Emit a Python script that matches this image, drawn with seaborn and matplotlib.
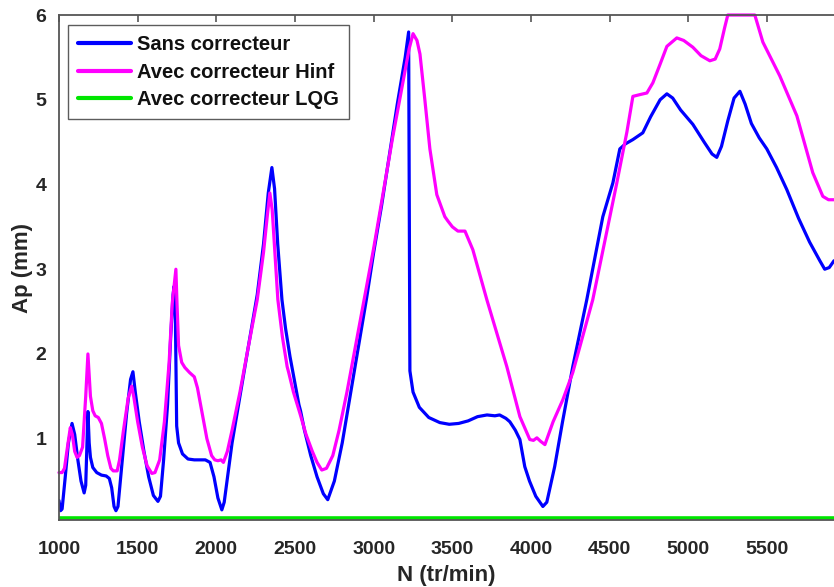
import matplotlib
matplotlib.use("Agg")
import matplotlib.pyplot as plt
import seaborn as sns
import numpy as np

# vitesse de rotation (tr/min) et amplitude Ap (mm)
sans_x = [1000, 1010, 1020, 1040, 1060, 1083, 1100, 1120, 1140, 1160, 1170, 1184, 1192, 1200,
          1215, 1240, 1270, 1300, 1320, 1335, 1350, 1362, 1375, 1400, 1430, 1455, 1470, 1485,
          1510, 1540, 1570, 1600, 1629, 1645, 1665, 1690, 1710, 1725, 1732, 1740, 1748, 1760,
          1785, 1820, 1860, 1900, 1930, 1960, 1985, 2010, 2035, 2050, 2075, 2100, 2150, 2200,
          2260, 2300, 2330, 2353, 2370, 2390, 2417, 2440, 2468, 2500, 2525, 2535, 2560, 2600,
          2640, 2680, 2708, 2750, 2800, 2850, 2900, 2955, 3000, 3050, 3100, 3150, 3200, 3222,
          3230, 3250, 3290, 3350, 3420, 3480, 3540, 3600, 3660, 3720, 3770, 3800, 3840, 3865,
          3900, 3929, 3960, 3990, 4030, 4075, 4100, 4150, 4200, 4265, 4354, 4456, 4520, 4564,
          4600, 4647, 4710, 4760, 4820, 4863, 4900, 4950, 5028, 5100, 5150, 5180, 5210, 5250,
          5290, 5327, 5360, 5400, 5450, 5498, 5560, 5625, 5700, 5770, 5835, 5866, 5895, 5925]
sans_y = [0.27, 0.15, 0.17, 0.55, 0.95, 1.18, 1.05, 0.75, 0.5, 0.36, 0.45, 1.32, 0.95, 0.78,
          0.66, 0.6, 0.57, 0.56, 0.53, 0.42, 0.2, 0.15, 0.2, 0.7, 1.3, 1.7, 1.79, 1.55,
          1.2, 0.85, 0.55, 0.33, 0.26, 0.32, 0.75, 1.4, 2.2, 2.7, 2.8, 2.4, 1.15, 0.95,
          0.82, 0.76, 0.75, 0.75, 0.75, 0.72, 0.55, 0.3, 0.16, 0.25, 0.6, 0.95, 1.5, 2.05,
          2.7, 3.3, 3.9, 4.2, 3.95, 3.3, 2.64, 2.3, 1.97, 1.65, 1.4, 1.33, 1.1, 0.8,
          0.55, 0.35, 0.28, 0.5, 0.95, 1.5, 2.05, 2.66, 3.2, 3.75, 4.35, 4.95, 5.5, 5.8,
          1.8, 1.55, 1.37, 1.25, 1.19, 1.17, 1.18, 1.21, 1.26, 1.28, 1.27, 1.28, 1.24, 1.2,
          1.1, 0.99, 0.67, 0.5, 0.32, 0.2, 0.25, 0.67, 1.2, 1.85, 2.64, 3.62, 4.02, 4.42,
          4.48, 4.53, 4.61, 4.8, 5.0, 5.07, 5.02, 4.88, 4.71, 4.5, 4.36, 4.32, 4.45, 4.75,
          5.02, 5.1, 4.95, 4.72, 4.55, 4.42, 4.2, 3.94, 3.6, 3.32, 3.1, 3.0, 3.02, 3.1]

hinf_x = [1000, 1020, 1035, 1050, 1072, 1085, 1100, 1115, 1130, 1150, 1170, 1184, 1192, 1200,
          1215, 1230, 1250, 1270, 1290, 1310, 1330, 1345, 1370, 1385, 1410, 1440, 1462, 1475,
          1500, 1530, 1560, 1590, 1610, 1640, 1670, 1700, 1720, 1743, 1750, 1760, 1780, 1800,
          1830, 1860, 1880, 1910, 1940, 1970, 1990, 2010, 2030, 2045, 2070, 2100, 2150, 2200,
          2260, 2300, 2325, 2340, 2355, 2375, 2391, 2420, 2450, 2460, 2490, 2531, 2570, 2610,
          2640, 2670, 2700, 2740, 2780, 2830, 2880, 2940, 3000, 3060, 3120, 3180, 3225, 3250,
          3275, 3294, 3325, 3357, 3401, 3452, 3471, 3500, 3535, 3580, 3630, 3719, 3846, 3929,
          3992, 4015, 4037, 4060, 4088, 4140, 4202, 4265, 4392, 4545, 4609, 4647, 4690, 4736,
          4774, 4820, 4863, 4926, 4970, 5028, 5080, 5136, 5170, 5199, 5230, 5250, 5300, 5350,
          5400, 5422, 5473, 5581, 5689, 5790, 5854, 5890, 5925]
hinf_y = [0.6, 0.6, 0.65, 0.85, 1.13, 1.05, 0.85, 0.78, 0.8, 0.9, 1.5, 2.0, 1.75, 1.5,
          1.33, 1.27, 1.25, 1.18, 1.0, 0.8, 0.65, 0.62, 0.62, 0.75, 1.1, 1.48, 1.62, 1.5,
          1.2, 0.9, 0.68, 0.59, 0.6, 0.75, 1.2, 1.9, 2.6, 3.0, 2.6, 2.1, 1.9, 1.84,
          1.78, 1.73, 1.6, 1.3, 1.0, 0.8, 0.75, 0.74, 0.75, 0.72, 0.85, 1.1, 1.55, 2.05,
          2.64, 3.2, 3.65, 3.9, 3.7, 3.1, 2.64, 2.2, 1.85, 1.78, 1.55, 1.3, 1.05, 0.85,
          0.72, 0.63, 0.65, 0.8, 1.1, 1.55, 2.05, 2.65, 3.25, 3.9, 4.55, 5.15, 5.6, 5.78,
          5.7, 5.54, 5.0, 4.42, 3.88, 3.62, 3.57, 3.5, 3.45, 3.45, 3.23, 2.64, 1.85, 1.26,
          0.99, 0.98, 1.01, 0.97, 0.93, 1.2, 1.46, 1.78, 2.64, 4.02, 4.62, 5.04, 5.06, 5.08,
          5.2, 5.42, 5.63, 5.73, 5.7, 5.62, 5.52, 5.46, 5.48, 5.6, 5.85, 6.0, 6.0, 6.0,
          6.0, 6.0, 5.68, 5.28, 4.81, 4.14, 3.86, 3.82, 3.82]

lqg_x = [1000, 2000, 3000, 4000, 5000, 5925]
lqg_y = [0.06, 0.06, 0.06, 0.06, 0.06, 0.06]

sns.set_style("white")
plt.rcParams['font.family'] = ['Liberation Sans', 'DejaVu Sans']
plt.rcParams['font.weight'] = 'bold'

fig = plt.figure(figsize=(8.34, 5.87), dpi=100)
ax = fig.add_axes([0.0707, 0.1141, 0.9293, 0.8603])

sns.lineplot(x=sans_x, y=sans_y, ax=ax, color='#0000ff', linewidth=2.3,
             label='Sans correcteur', estimator=None, sort=False)
sns.lineplot(x=hinf_x, y=hinf_y, ax=ax, color='#ff00ff', linewidth=2.3,
             label='Avec correcteur Hinf', estimator=None, sort=False, clip_on=False)
sns.lineplot(x=lqg_x, y=lqg_y, ax=ax, color='#00e600', linewidth=2.6,
             label='Avec correcteur LQG', estimator=None, sort=False)

ax.set_xlim(1000, 5925)
ax.set_ylim(0.04, 6)
ax.set_xticks([1000, 1500, 2000, 2500, 3000, 3500, 4000, 4500, 5000, 5500])
ax.set_yticks([1, 2, 3, 4, 5, 6])
ax.tick_params(direction='in', top=True, length=5, width=1.2, colors='#555555',
               labelcolor='#262626', labelsize=14)
ax.tick_params(axis='x', pad=15)
ax.tick_params(axis='y', pad=9)
for lab in ax.get_xticklabels() + ax.get_yticklabels():
    lab.set_fontweight('bold')
for side in ['left', 'bottom', 'top']:
    ax.spines[side].set_color('#555555')
    ax.spines[side].set_linewidth(1.3)
ax.spines['right'].set_visible(False)

ax.set_xlabel('N (tr/min)', fontsize=16, fontweight='bold', color='#262626', labelpad=5)
ax.set_ylabel('Ap (mm)', fontsize=16, fontweight='bold', color='#262626', labelpad=2)

leg = ax.legend(loc='upper left', bbox_to_anchor=(0.012, 0.98), fontsize=14.5,
                frameon=True, fancybox=False, handlelength=2.6, handletextpad=0.3,
                labelspacing=0.42, borderpad=0.5, borderaxespad=0.0)
leg.get_frame().set_edgecolor('#333333')
leg.get_frame().set_linewidth(1.0)
for t in leg.get_texts():
    t.set_fontweight('bold')
    t.set_color('#111111')
for h in leg.get_lines():
    h.set_linewidth(3)

fig.savefig('out.png', dpi=100)
